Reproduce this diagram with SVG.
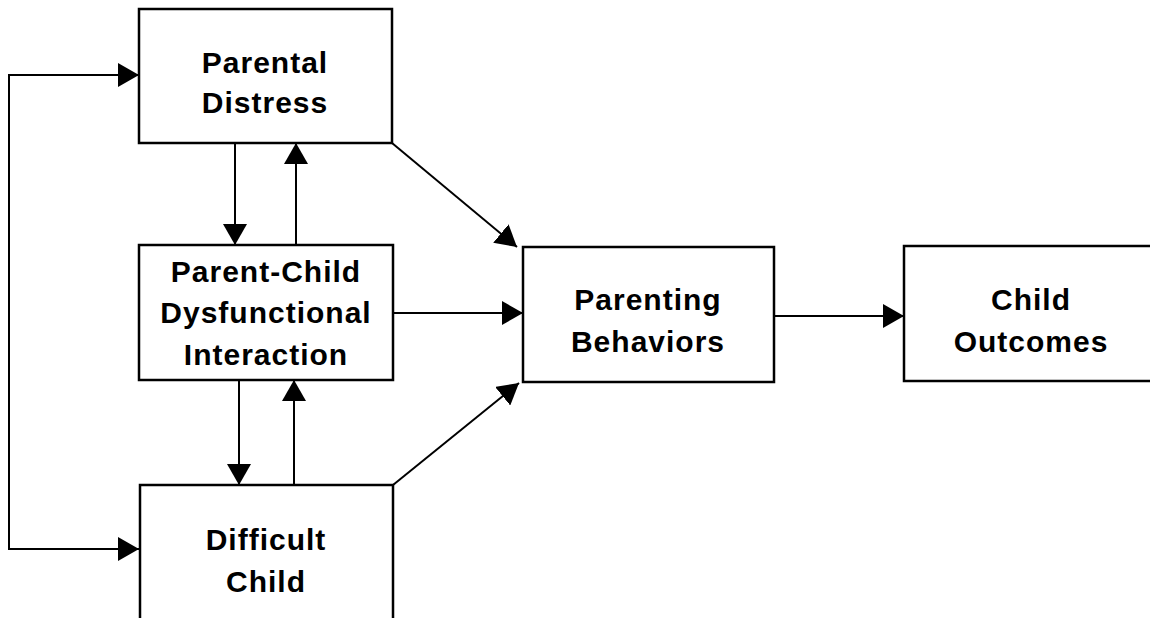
<svg xmlns="http://www.w3.org/2000/svg" width="1150" height="618" viewBox="0 0 1150 618">
<style>
.box{fill:#fff;stroke:#000;stroke-width:2.5}
.lbl{font-family:"Liberation Sans",Arial,sans-serif;font-weight:bold;font-size:30px;letter-spacing:1px;fill:#000;text-anchor:middle}
.edge{stroke:#000;stroke-width:2;fill:none;marker-end:url(#ah)}
</style>
<defs>
<marker id="ah" markerUnits="userSpaceOnUse" markerWidth="22" markerHeight="24" refX="21" refY="12" orient="auto">
<path d="M0,0 L21,12 L0,24 Z" fill="#000"/>
</marker>
</defs>
<rect width="1150" height="618" fill="#fff"/>
<g id="connectors">
<path class="edge" d="M139,75 H9 V549 H139"/>
<line class="edge" x1="9" y1="75" x2="139" y2="75"/>
<line class="edge" x1="235" y1="143" x2="235" y2="245"/>
<line class="edge" x1="296" y1="245" x2="296" y2="143"/>
<line class="edge" x1="239" y1="380" x2="239" y2="485"/>
<line class="edge" x1="294" y1="485" x2="294" y2="380"/>
<line class="edge" x1="392" y1="143" x2="517" y2="247"/>
<line class="edge" x1="393" y1="313" x2="523" y2="313"/>
<line class="edge" x1="393" y1="485" x2="519" y2="383"/>
<line class="edge" x1="774" y1="316" x2="904" y2="316"/>
</g>
<g id="parental-distress">
<rect class="box" x="139" y="9" width="253" height="134"/>
<text class="lbl" x="265" y="73">Parental</text>
<text class="lbl" x="265" y="113">Distress</text>
</g>
<g id="parent-child-interaction">
<rect class="box" x="139" y="245" width="254" height="135"/>
<text class="lbl" x="266" y="282">Parent-Child</text>
<text class="lbl" x="266" y="323">Dysfunctional</text>
<text class="lbl" x="266" y="365">Interaction</text>
</g>
<g id="difficult-child">
<rect class="box" x="140" y="485" width="253" height="150"/>
<text class="lbl" x="266" y="550">Difficult</text>
<text class="lbl" x="266" y="592">Child</text>
</g>
<g id="parenting-behaviors">
<rect class="box" x="523" y="247" width="251" height="135"/>
<text class="lbl" x="648" y="310">Parenting</text>
<text class="lbl" x="648" y="352">Behaviors</text>
</g>
<g id="child-outcomes">
<rect class="box" x="904" y="246" width="256" height="135"/>
<text class="lbl" x="1031" y="310">Child</text>
<text class="lbl" x="1031" y="352">Outcomes</text>
</g>
</svg>
